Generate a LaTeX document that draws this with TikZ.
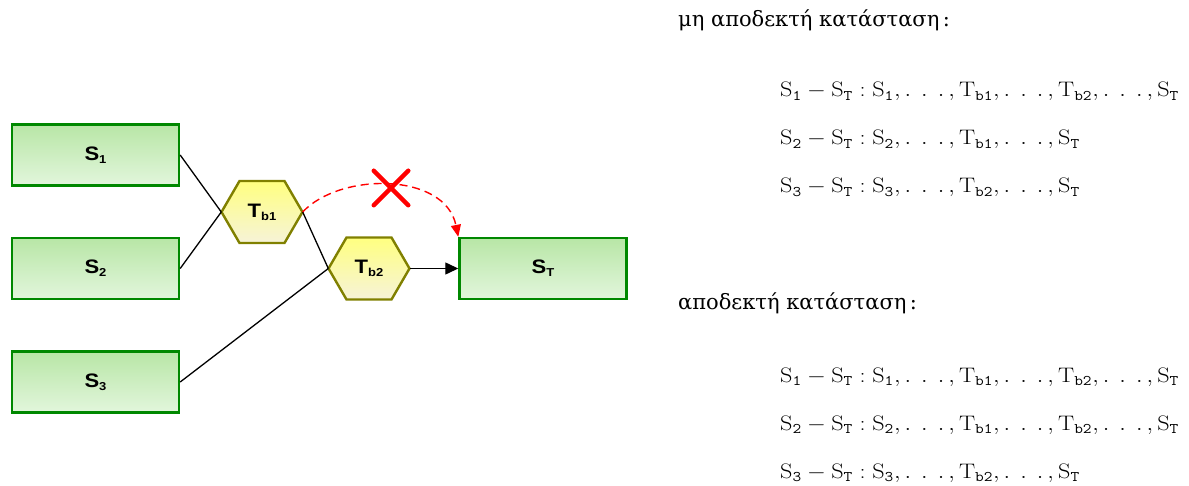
\RequirePackage{fix-cm}
\documentclass[tikz,border=0pt]{standalone}
\usepackage{graphicx}
\usepackage[no-math]{fontspec}
\setmainfont{DejaVu Serif}
\newfontfamily\labelfont{Liberation Sans}
\usetikzlibrary{arrows.meta,shapes.misc}
\definecolor{sgreen}{HTML}{008800}
\definecolor{gtop}{HTML}{B8E6A6}
\definecolor{gbot}{HTML}{E2F6DC}
\definecolor{olive}{HTML}{808000}
\definecolor{ytop}{HTML}{FFFF80}
\definecolor{ybot}{HTML}{F6F3D8}
\newcommand\Sx[1]{\mathrm{S}_{\mathtt{#1}}}
\newcommand\Tx[1]{\mathrm{T}_{\mathtt{#1}}}
\newcommand\Dots{\mathinner{\ldotp\mkern4.5mu\ldotp\mkern4.5mu\ldotp}}
\newcommand\Fml[1]{\scalebox{1.15}[1]{$#1$}}
\newcommand\lab[2]{\scalebox{1.13}[1]{#1{\fontsize{11.5}{12}\selectfont\raisebox{-3pt}{#2}}}}
\begin{document}
\begin{tikzpicture}[x=1pt,y=-1pt,
  sbox/.style={draw=sgreen, line width=2.4pt, top color=gtop, bottom color=gbot,
    minimum width=167pt, minimum height=61pt, inner sep=0pt,
    font=\labelfont\bfseries\fontsize{19.5}{20}\selectfont},
  hexfill/.style={draw=olive, line width=2.4pt, line join=miter, top color=ytop, bottom color=ybot},
  hexnode/.style={rectangle, minimum width=81pt, minimum height=62pt, inner sep=0pt,
    font=\labelfont\bfseries\fontsize{19.5}{20}\selectfont},
  conn/.style={draw=black, line width=1.3pt},
  redconn/.style={draw=red, line width=1.4pt, dash pattern=on 8pt off 5pt,
    -{Triangle[length=12pt,width=10pt]}},
  greek/.style={anchor=base west, inner sep=0pt, font=\fontsize{21}{25}\selectfont},
  formula/.style={anchor=base west, inner sep=0pt, font=\fontsize{21}{25}\selectfont}
]
\useasboundingbox (0,0) rectangle (1189,486);

\node[sbox] (s1) at (95.5,155) {\lab{S}{1}};
\node[sbox] (s2) at (95.5,268.5) {\lab{S}{2}};
\node[sbox] (s3) at (95.5,382) {\lab{S}{3}};
\node[sbox] (st) at (543,268.5) {\lab{S}{T}};

\path[hexfill] (262,212) ++(-40.5,0) -- ++(18,-31) -- ++(45,0) -- ++(18,31) -- ++(-18,31) -- ++(-45,0) -- cycle;
\node[hexnode] (tb1) at (262,212) {\lab{T}{b1}};
\path[hexfill] (369,268.5) ++(-40.5,0) -- ++(18,-31) -- ++(45,0) -- ++(18,31) -- ++(-18,31) -- ++(-45,0) -- cycle;
\node[hexnode] (tb2) at (369,268.5) {\lab{T}{b2}};

\draw[conn] (s1.east) -- (tb1.west);
\draw[conn] (s2.east) -- (tb1.west);
\draw[conn] (tb1.east) -- (tb2.west);
\draw[conn] (s3.east) -- (tb2.west);
\draw[conn,-{Triangle[length=13pt,width=12pt]}] (tb2.east) -- (st.west);
\draw[redconn] (tb1.east) .. controls (340,172) and (445,172) .. (st.north west);
\node[cross out, draw=red, line width=4.5pt, line cap=round, inner sep=0pt, minimum size=30pt] (x) at (391,188) {};

\node[greek] (h1) at (678,27) {μη αποδεκτή κατάσταση\,:};
\node[formula] (a1) at (780,97) {\Fml{\Sx1-\Sx T:\Sx1,\Dots,\Tx{b1},\Dots,\Tx{b2},\Dots,\Sx T}};
\node[formula] (a2) at (780,145) {\Fml{\Sx2-\Sx T:\Sx2,\Dots,\Tx{b1},\Dots,\Sx T}};
\node[formula] (a3) at (780,193) {\Fml{\Sx3-\Sx T:\Sx3,\Dots,\Tx{b2},\Dots,\Sx T}};

\node[greek] (h2) at (678,310) {αποδεκτή κατάσταση\,:};
\node[formula] (b1) at (780,382) {\Fml{\Sx1-\Sx T:\Sx1,\Dots,\Tx{b1},\Dots,\Tx{b2},\Dots,\Sx T}};
\node[formula] (b2) at (780,430) {\Fml{\Sx2-\Sx T:\Sx2,\Dots,\Tx{b1},\Dots,\Tx{b2},\Dots,\Sx T}};
\node[formula] (b3) at (780,478) {\Fml{\Sx3-\Sx T:\Sx3,\Dots,\Tx{b2},\Dots,\Sx T}};
\end{tikzpicture}
\end{document}
